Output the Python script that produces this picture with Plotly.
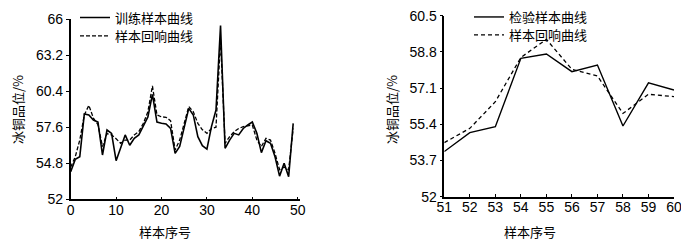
import plotly.graph_objects as go

# ---- data ----
train_x = list(range(0, 50))
train_actual = [54.15, 55.1, 55.3, 58.62, 58.55, 58.16, 58.0, 55.44, 57.38, 57.12,
                55.0, 55.96, 57.0, 56.2, 56.74, 57.0, 57.64, 58.4, 60.15, 58.0,
                57.9, 57.85, 57.5, 55.57, 56.1, 57.64, 59.06, 58.55, 56.86, 56.17,
                55.9, 57.64, 58.93, 65.5, 55.96, 56.6, 57.12, 57.0, 57.5, 57.77,
                58.0, 57.12, 55.62, 56.55, 56.35, 55.3, 53.8, 54.8, 53.76, 57.9]
train_response = [54.5, 55.3, 56.6, 58.55, 59.3, 58.3, 57.8, 56.1, 57.1, 57.0,
                  56.7, 56.35, 56.6, 56.6, 57.0, 57.25, 57.9, 58.8, 60.8, 58.55,
                  58.4, 58.37, 58.1, 55.83, 56.6, 58.0, 59.2, 58.8, 57.9, 57.4,
                  57.12, 57.5, 57.6, 64.4, 56.35, 56.86, 57.25, 57.5, 57.64, 57.7,
                  57.77, 56.6, 56.1, 56.74, 56.6, 55.57, 54.3, 54.5, 54.3, 57.5]

test_x = [51, 52, 53, 54, 55, 56, 57, 58, 59, 60]
test_actual = [54.12, 55.01, 55.29, 58.5, 58.7, 57.87, 58.18, 55.32, 57.35, 57.01]
test_response = [54.54, 55.21, 56.46, 58.54, 59.39, 57.98, 57.67, 55.91, 56.81, 56.7]

left_yticks = [52, 54.8, 57.6, 60.4, 63.2, 66]
left_yticklabels = ["52", "54.8", "57.6", "60.4", "63.2", "66"]
left_xticks = [0, 10, 20, 30, 40, 50]
right_yticks = [52, 53.7, 55.4, 57.1, 58.8, 60.5]
right_yticklabels = ["52", "53.7", "55.4", "57.1", "58.8", "60.5"]
right_xticks = test_x

names_left = ["训练样本曲线", "样本回响曲线"]
names_right = ["检验样本曲线", "样本回响曲线"]
y_title = "冰铜品位/%"
x_title = "样本序号"

W, H = 689, 242
OFF = 8  # page body margin
FONT = "Liberation Sans, Arial, Noto Sans CJK SC"
CJK = "Noto Sans CJK SC"

fig = go.Figure()
fig.add_trace(go.Scatter(x=train_x, y=train_actual, mode="lines", name=names_left[0],
                         line=dict(color="black", width=1.6), xaxis="x", yaxis="y",
                         legend="legend", showlegend=True))
fig.add_trace(go.Scatter(x=train_x, y=train_response, mode="lines", name=names_left[1],
                         line=dict(color="black", width=1.3, dash="4px,2px"), xaxis="x", yaxis="y",
                         legend="legend2", showlegend=True))
fig.add_trace(go.Scatter(x=test_x, y=test_actual, mode="lines", name=names_right[0],
                         line=dict(color="black", width=1.4), xaxis="x2", yaxis="y2",
                         legend="legend3", showlegend=True))
fig.add_trace(go.Scatter(x=test_x, y=test_response, mode="lines", name=names_right[1],
                         line=dict(color="black", width=1.3, dash="4px,3px"), xaxis="x2", yaxis="y2",
                         legend="legend4", showlegend=True))

def px_x(p):
    return (p - OFF) / W

def px_y(p):
    return 1 - (p - OFF) / H

axis_common = dict(showgrid=False, zeroline=False, showline=True, linecolor="black",
                   linewidth=1.5, tickfont=dict(family=FONT, size=14, color="black"),
                   tickcolor="black", automargin=False, ticklabeloverflow="allow")

fig.update_layout(
    width=W, height=H,
    margin=dict(l=0, r=0, t=0, b=0, autoexpand=False),
    showlegend=True,
    paper_bgcolor="white", plot_bgcolor="white",
    font=dict(family=CJK, size=13, color="black"),
    xaxis=dict(domain=[px_x(70.7), px_x(300)], range=[0, 50.5], anchor="y",
               tickvals=left_xticks, ticks="inside", ticklen=3, ticklabelstandoff=-3,
               **axis_common),
    yaxis=dict(domain=[px_y(199.3), px_y(19)], range=[52, 66], anchor="x",
               tickvals=left_yticks, ticktext=left_yticklabels, ticks="outside", ticklen=3,
               **axis_common),
    xaxis2=dict(domain=[px_x(444.3), px_x(674)], range=[51, 60], anchor="y2",
                tickvals=right_xticks, ticks="inside", ticklen=3, ticklabelstandoff=-3,
                **axis_common),
    yaxis2=dict(domain=[px_y(196.7), px_y(15.7)], range=[52, 60.5], anchor="x2",
                tickvals=right_yticks, ticktext=right_yticklabels, ticks="outside", ticklen=3,
                **axis_common),
)

leg_common = dict(xanchor="left", yanchor="middle", bgcolor="rgba(0,0,0,0)",
                  font=dict(family=CJK, size=13, color="black"), itemwidth=30,
                  borderwidth=0)
fig.update_layout(
    legend=dict(x=px_x(75), y=px_y(17.5), **leg_common),
    legend2=dict(x=px_x(75), y=px_y(36), **leg_common),
    legend3=dict(x=px_x(469), y=px_y(17), **leg_common),
    legend4=dict(x=px_x(469), y=px_y(35), **leg_common),
)

ann_common = dict(xref="paper", yref="paper", showarrow=False, xanchor="center",
                  yanchor="middle", font=dict(family=CJK, size=13, color="black"))
ann = [
    dict(text=y_title, x=px_x(18), y=px_y(110), textangle=-90, **ann_common),
    dict(text=y_title, x=px_x(392), y=px_y(110), textangle=-90, **ann_common),
    dict(text=x_title, x=px_x(165), y=px_y(231.5), **ann_common),
    dict(text=x_title, x=px_x(530), y=px_y(231.5), **ann_common),
]
fig.update_layout(annotations=ann)

fig.write_html("out.html")
